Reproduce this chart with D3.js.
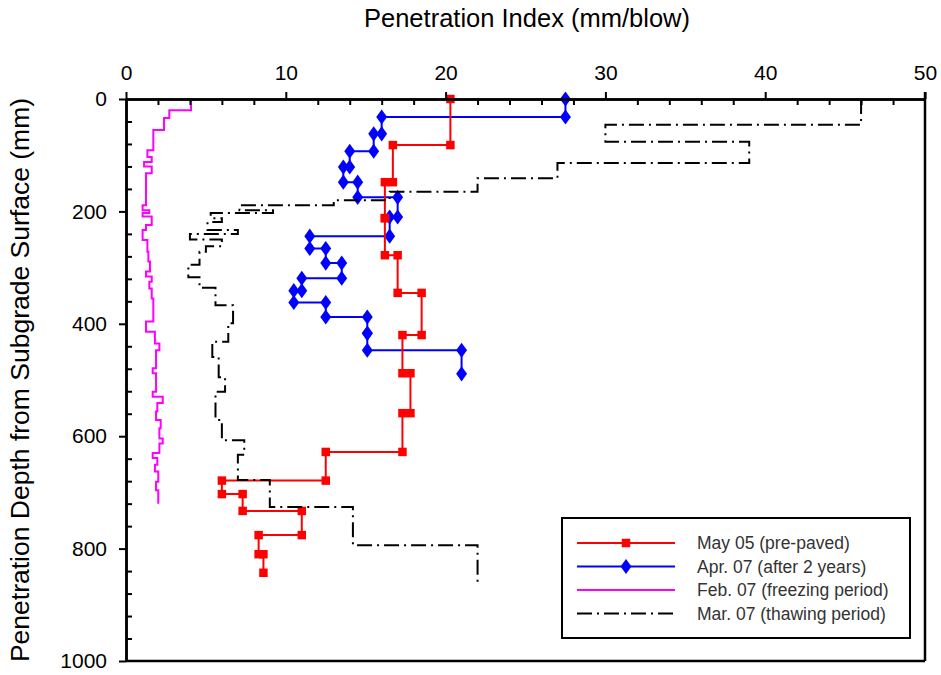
<!DOCTYPE html>
<html>
<head>
<meta charset="utf-8">
<script src="https://cdn.jsdelivr.net/npm/d3@7"></script>
<style>
  body { margin: 0; background: #fff; }
  text { font-family: "Liberation Sans", Arial, sans-serif; }
</style>
</head>
<body>
<div id="chart"></div>
<script>
// layer boundaries (mm) and penetration index (mm/blow) for each layer
const mayDepth = [0, 82, 148, 212, 278, 345, 420, 488, 559, 628, 679, 703, 733, 776, 810, 843];
const mayPI    = [20.3, 16.7, 16.2, 16.2, 17.0, 18.5, 17.3, 17.8, 17.3, 12.5, 6.0, 7.3, 11.0, 8.3, 8.6];

const aprDepth = [0, 32, 62, 93, 121, 148, 175, 210, 244, 266, 292, 319, 341, 362, 388, 417, 447, 489];
const aprPI    = [27.5, 16.0, 15.5, 14.0, 13.6, 14.5, 17.0, 16.5, 11.5, 12.5, 13.5, 11.0, 10.5, 12.5, 15.1, 15.1, 21.0];

const febDepth = [0, 20, 34, 55, 91, 103, 112, 120, 132, 189, 198, 203, 209, 224, 233, 251, 272, 289, 307, 316, 325, 337, 355,
                  396, 414, 435, 447, 479, 488, 521, 530, 541, 556, 571, 586, 604, 613, 630, 639, 651, 663, 681, 696, 720];
const febPI    = [4.07, 2.71, 2.38, 1.71, 1.34, 1.61, 1.13, 1.61, 1.25, 1.04, 1.46, 1.04, 1.61, 1.25, 1.04, 1.34, 1.40, 1.50, 1.25, 1.61, 1.46, 1.61,
                  1.71, 1.25, 1.81, 2.09, 1.88, 1.67, 1.88, 1.67, 2.30, 1.96, 1.88, 2.17, 2.09, 2.30, 2.09, 1.67, 1.96, 1.81, 2.02, 1.88, 2.02];

const marDepth = [0, 46, 76, 114, 141, 165, 180, 189, 198, 203, 212, 219, 233, 240, 250, 262, 272, 295, 317, 336, 367, 399, 432,
                  459, 495, 521, 571, 607, 633, 678, 726, 794, 861];
const marPI    = [46.0, 30.0, 39.0, 27.0, 22.0, 16.5, 13.0, 7.1, 9.2, 5.3, 6.0, 5.1, 7.0, 4.0, 6.0, 5.0, 4.6, 3.9, 4.6, 5.6, 6.7, 6.4,
                  5.4, 5.8, 6.2, 5.6, 6.0, 7.4, 7.0, 9.0, 14.2, 22.0];

const xTicks = [0, 10, 20, 30, 40, 50];
const yTicks = [0, 200, 400, 600, 800, 1000];
const legendLabels = ["May 05 (pre-paved)", "Apr. 07 (after 2 years)", "Feb. 07 (freezing period)", "Mar. 07 (thawing period)"];

const W = 941, H = 675;
const margin = { top: 99, left: 126, right: 16, bottom: 14 };

const svg = d3.select("#chart").append("svg")
    .attr("width", W)
    .attr("height", H);

svg.append("rect").attr("width", W).attr("height", H).attr("fill", "#fff");

const x = d3.scaleLinear().domain([0, 50]).range([margin.left, W - margin.right]);
const y = d3.scaleLinear().domain([0, 1000]).range([margin.top, H - margin.bottom]);

// turn layers into step vertices
function steps(depth, pi) {
  const pts = [];
  pi.forEach((v, i) => {
    pts.push([v, depth[i]]);
    pts.push([v, depth[i + 1]]);
  });
  return pts;
}

const line = d3.line().x(d => x(d[0])).y(d => y(d[1]));

const series = [
  { pts: steps(febDepth, febPI), color: "#ff00ff", dash: null },
  { pts: steps(aprDepth, aprPI), color: "#0000ff", dash: null, marker: "diamond" },
  { pts: steps(mayDepth, mayPI), color: "#ff0000", dash: null, marker: "square" },
  { pts: steps(marDepth, marPI), color: "#000", dash: "15,5,2,5" }
];

function markerPath(m) {
  return d3.symbol()
    .type(m === "square" ? d3.symbolSquare : d3.symbolDiamond)
    .size(m === "square" ? 72 : 66)();
}

const plot = svg.append("g");

series.forEach(s => {
  plot.append("path")
    .datum(s.pts)
    .attr("fill", "none")
    .attr("stroke", s.color)
    .attr("stroke-width", 2)
    .attr("stroke-dasharray", s.dash)
    .attr("d", line);
  if (s.marker) {
    plot.selectAll(null)
      .data(s.pts)
      .enter()
      .append("path")
      .attr("d", markerPath(s.marker))
      .attr("fill", s.color)
      .attr("transform", d => "translate(" + x(d[0]) + "," + y(d[1]) + ")" + (s.marker === "diamond" ? " scale(1.25,1)" : ""));
  }
});

// axes: major ticks outward, minor ticks inward
const xMinor = d3.range(0, 50.1, 2).filter(v => v % 10 !== 0);
const yMinor = d3.range(0, 1000.1, 40).filter(v => v % 200 !== 0);

const topAxis = svg.append("g")
  .attr("transform", "translate(0," + margin.top + ")")
  .call(d3.axisTop(x).tickValues(xTicks).tickSize(7).tickPadding(12).tickSizeOuter(0));
topAxis.append("g")
  .call(d3.axisBottom(x).tickValues(xMinor).tickSize(6).tickFormat("").tickSizeOuter(0));

const leftAxis = svg.append("g")
  .attr("transform", "translate(" + margin.left + ",0)")
  .call(d3.axisLeft(y).tickValues(yTicks).tickFormat(d3.format("d")).tickSize(7).tickPadding(12).tickSizeOuter(0));
leftAxis.append("g")
  .call(d3.axisRight(y).tickValues(yMinor).tickSize(6).tickFormat("").tickSizeOuter(0));

svg.selectAll(".domain").attr("stroke-width", 2.5);
svg.selectAll(".tick line").attr("stroke-width", 2);
svg.selectAll(".tick text").attr("font-size", 21).attr("fill", "#000")
  .style("font-family", "'Liberation Sans', Arial, sans-serif");

// right and bottom frame
svg.append("line")
  .attr("x1", x(50)).attr("x2", x(50))
  .attr("y1", y(0) - 7).attr("y2", y(1000))
  .attr("stroke", "#000").attr("stroke-width", 2.5);
svg.append("line")
  .attr("x1", x(0)).attr("x2", x(50))
  .attr("y1", y(1000)).attr("y2", y(1000))
  .attr("stroke", "#000").attr("stroke-width", 2.5);

// titles
svg.append("text")
  .attr("x", 527).attr("y", 27)
  .attr("text-anchor", "middle")
  .attr("font-size", 25.5)
  .text("Penetration Index (mm/blow)");

svg.append("text")
  .attr("transform", "translate(29," + ((y(0) + y(1000)) / 2) + ") rotate(-90)")
  .attr("text-anchor", "middle")
  .attr("font-size", 26.5)
  .text("Penetration Depth from Subgrade Surface (mm)");

// legend
const legend = svg.append("g");
legend.append("rect")
  .attr("x", 562).attr("y", 518)
  .attr("width", 348).attr("height", 120)
  .attr("fill", "#fff")
  .attr("stroke", "#000")
  .attr("stroke-width", 2);

const legendStyle = [
  { color: "#ff0000", dash: null, marker: "square" },
  { color: "#0000ff", dash: null, marker: "diamond" },
  { color: "#ff00ff", dash: null },
  { color: "#000", dash: "15,5,2,5" }
];

legendLabels.forEach((lab, i) => {
  const ly = 543 + i * 23.5;
  legend.append("line")
    .attr("x1", 577).attr("x2", 675)
    .attr("y1", ly).attr("y2", ly)
    .attr("stroke", legendStyle[i].color)
    .attr("stroke-width", 2)
    .attr("stroke-dasharray", legendStyle[i].dash);
  if (legendStyle[i].marker) {
    legend.append("path")
      .attr("d", markerPath(legendStyle[i].marker))
      .attr("fill", legendStyle[i].color)
      .attr("transform", "translate(626," + ly + ")" + (legendStyle[i].marker === "diamond" ? " scale(1.25,1)" : ""));
  }
  legend.append("text")
    .attr("x", 697).attr("y", ly + 6)
    .attr("font-size", 17.5)
    .attr("fill", "#333")
    .text(lab);
});
</script>
</body>
</html>
